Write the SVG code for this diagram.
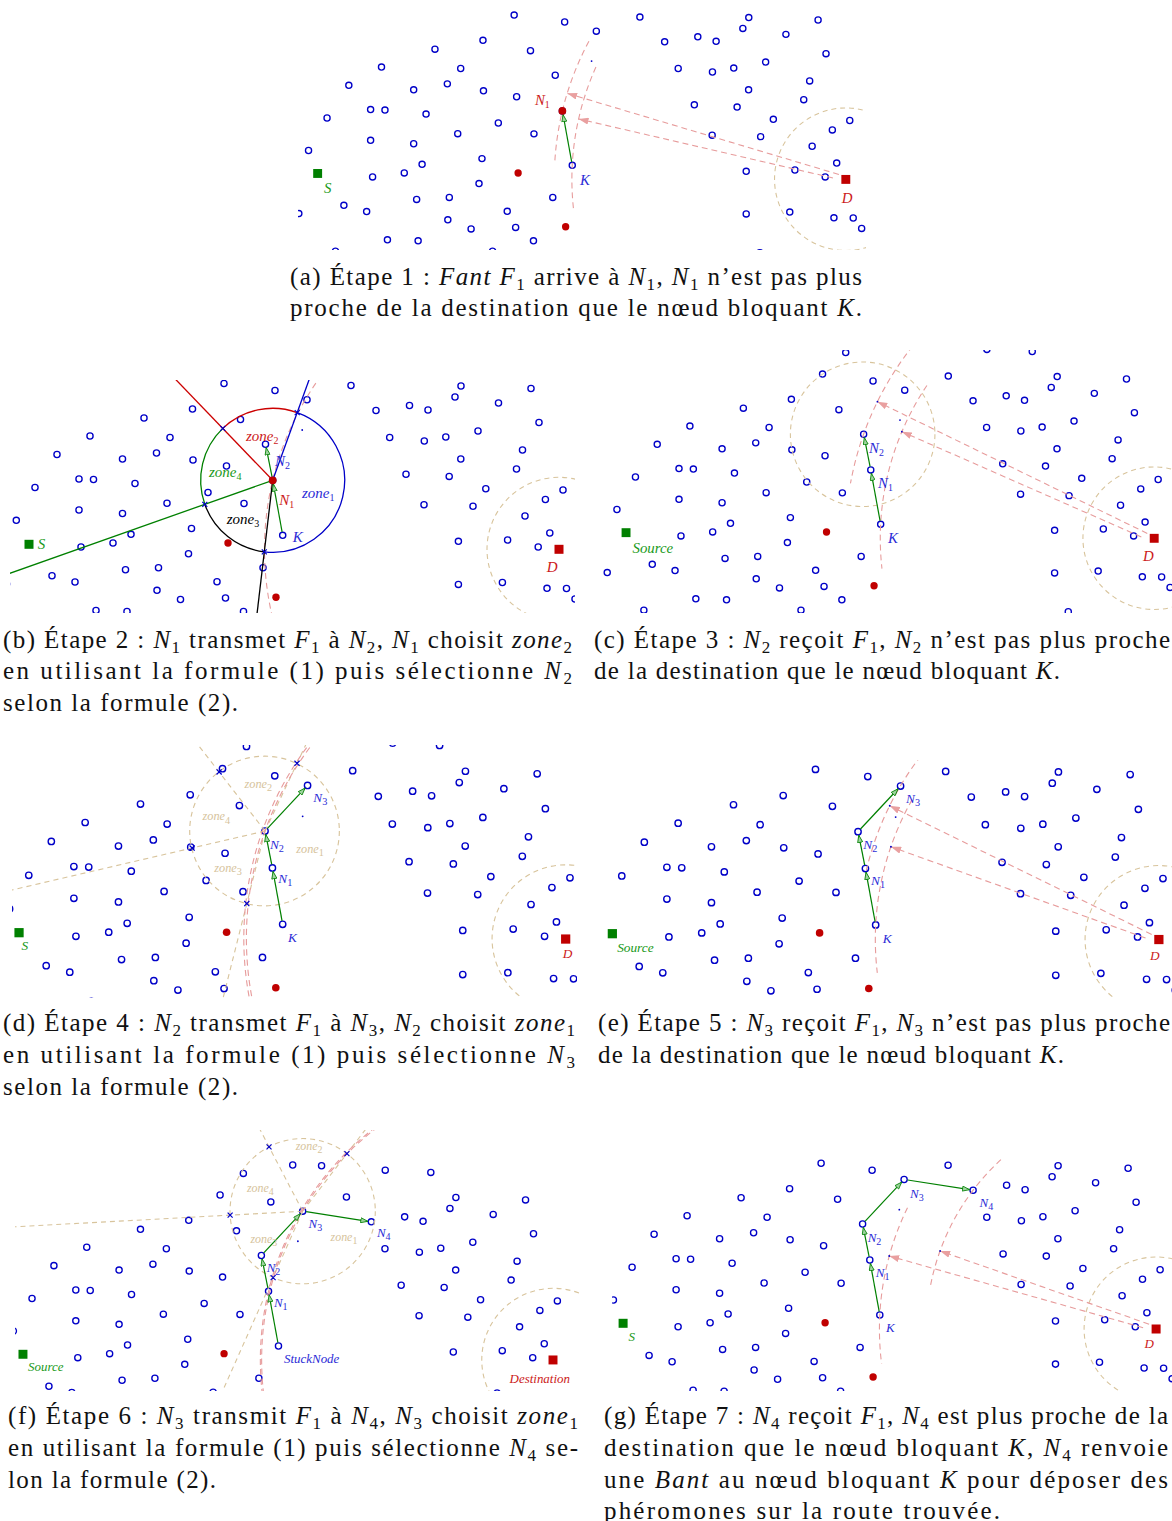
<svg xmlns="http://www.w3.org/2000/svg" width="1172" height="1521" viewBox="0 0 1172 1521">
<style>
.p{fill:none;stroke:#0000c8;stroke-width:1.35}
.rd{fill:#c00000}
.td{fill:#0000c8}
.tn{fill:none;stroke:#d8c49c;stroke-width:1.1;stroke-dasharray:5 4}
.pk{fill:none;stroke:#e79c9c;stroke-width:1.1;stroke-dasharray:6 4}
.ga{stroke:#008000;stroke-width:1.2;marker-end:url(#ga)}
.xm{stroke:#0000c8;stroke-width:1.2;fill:none}
.lb{font-family:"Liberation Serif","Times New Roman",serif;font-style:italic;font-size:15px}
.ls{font-size:13px}
.lz{font-size:12px}
.sb{font-size:10px;font-style:normal}
.cb{fill:#2b2bd6}
.cr{fill:#cc1a1a}
.cg{fill:#1a9a1a}
.ct{fill:#d6c39c}
.ck{fill:#000}
.sg{fill:#008000}
.sr{fill:#c00000}
.cap{font-family:"Liberation Serif","Times New Roman",serif;font-size:25px;fill:#111}
.i{font-style:italic}
.s{font-size:17px}
</style>
<defs>
<marker id="pa" viewBox="0 0 10 7" refX="10" refY="3.5" markerWidth="10" markerHeight="7" markerUnits="userSpaceOnUse" orient="auto"><path d="M0,0L10,3.5L0,7z" fill="#e9a0a0" stroke="none"/></marker>
<marker id="ga" viewBox="0 0 8 6" refX="7.6" refY="3" markerWidth="8" markerHeight="6" markerUnits="userSpaceOnUse" orient="auto"><path d="M0.5,0.5L7.6,3L0.5,5.5z" fill="#9fd49f" stroke="#008000" stroke-width="0.8"/></marker>
<clipPath id="cA"><rect x="298" y="10" width="568" height="240"/></clipPath>
<clipPath id="cB"><rect x="10" y="380" width="565" height="233"/></clipPath>
<clipPath id="cC"><rect x="598" y="350" width="574" height="263"/></clipPath>
<clipPath id="cD"><rect x="12" y="745" width="565" height="253"/></clipPath>
<clipPath id="cE"><rect x="607" y="760" width="565" height="238"/></clipPath>
<clipPath id="cF"><rect x="15" y="1130" width="565" height="261"/></clipPath>
<clipPath id="cG"><rect x="612" y="1156" width="560" height="235"/></clipPath>
<g id="field">
<g class="p">
<circle cx="224" cy="383.5" r="3.1"/><circle cx="275" cy="390.5" r="3.1"/><circle cx="192.5" cy="409" r="3.1"/><circle cx="144" cy="418" r="3.1"/><circle cx="240.5" cy="419.5" r="3.1"/><circle cx="90" cy="436" r="3.1"/><circle cx="170" cy="437.5" r="3.1"/><circle cx="57" cy="454.5" r="3.1"/><circle cx="156.5" cy="453" r="3.1"/><circle cx="122.5" cy="459" r="3.1"/><circle cx="193" cy="460" r="3.1"/><circle cx="265.5" cy="444.3" r="3.1"/><circle cx="226.5" cy="466" r="3.1"/><circle cx="79" cy="479" r="3.1"/><circle cx="93.5" cy="479.5" r="3.1"/><circle cx="135" cy="483.5" r="3.1"/><circle cx="35" cy="487.5" r="3.1"/><circle cx="208" cy="492.5" r="3.1"/><circle cx="167" cy="503.3" r="3.1"/><circle cx="244" cy="503.5" r="3.1"/><circle cx="79" cy="510" r="3.1"/><circle cx="122.5" cy="513.5" r="3.1"/><circle cx="16.3" cy="520.3" r="3.1"/><circle cx="191.5" cy="528.5" r="3.1"/><circle cx="131" cy="534.3" r="3.1"/><circle cx="113" cy="543" r="3.1"/><circle cx="81" cy="547" r="3.1"/><circle cx="282.7" cy="535.3" r="3.1"/><circle cx="188.5" cy="553.7" r="3.1"/><circle cx="263" cy="567.7" r="3.1"/><circle cx="125.5" cy="569.7" r="3.1"/><circle cx="158.5" cy="567.7" r="3.1"/><circle cx="52" cy="575.7" r="3.1"/><circle cx="75" cy="582" r="3.1"/><circle cx="6.5" cy="584" r="3.1"/><circle cx="217" cy="581.7" r="3.1"/><circle cx="157" cy="590.3" r="3.1"/><circle cx="180.5" cy="599.5" r="3.1"/><circle cx="225.5" cy="598" r="3.1"/><circle cx="96" cy="610.5" r="3.1"/><circle cx="127" cy="611.5" r="3.1"/><circle cx="243.5" cy="611.5" r="3.1"/><circle cx="272.7" cy="480.3" r="3.1"/>
<circle cx="351" cy="385.5" r="3.1"/><circle cx="307" cy="399.8" r="3.1"/><circle cx="461" cy="386" r="3.1"/><circle cx="455" cy="397" r="3.1"/><circle cx="531" cy="388.5" r="3.1"/><circle cx="376" cy="410.5" r="3.1"/><circle cx="409.5" cy="405.5" r="3.1"/><circle cx="428" cy="410" r="3.1"/><circle cx="498.5" cy="403" r="3.1"/><circle cx="539" cy="422.5" r="3.1"/><circle cx="389.7" cy="437.5" r="3.1"/><circle cx="424.3" cy="441" r="3.1"/><circle cx="445.8" cy="437" r="3.1"/><circle cx="478" cy="431" r="3.1"/><circle cx="522.5" cy="450" r="3.1"/><circle cx="460.8" cy="459" r="3.1"/><circle cx="516.5" cy="469" r="3.1"/><circle cx="406" cy="474.2" r="3.1"/><circle cx="449.2" cy="476.4" r="3.1"/><circle cx="485.8" cy="488.8" r="3.1"/><circle cx="563" cy="490" r="3.1"/><circle cx="545.4" cy="499.5" r="3.1"/><circle cx="424" cy="504.8" r="3.1"/><circle cx="473" cy="506.3" r="3.1"/><circle cx="525" cy="516" r="3.1"/><circle cx="549.8" cy="533" r="3.1"/><circle cx="458.4" cy="541.3" r="3.1"/><circle cx="507.6" cy="540" r="3.1"/><circle cx="538.2" cy="547" r="3.1"/><circle cx="458.4" cy="584.4" r="3.1"/><circle cx="502.4" cy="582.5" r="3.1"/><circle cx="547" cy="588.3" r="3.1"/><circle cx="566.5" cy="588.5" r="3.1"/><circle cx="575" cy="599" r="3.1"/>
<circle cx="297" cy="353.4" r="3.1"/><circle cx="326" cy="354.1" r="3.1"/><circle cx="247.4" cy="361.8" r="3.1"/><circle cx="390" cy="358.6" r="3.1"/><circle cx="435.8" cy="360.8" r="3.1"/><circle cx="43.5" cy="622" r="3.1"/><circle cx="202.2" cy="622" r="3.1"/><circle cx="472.2" cy="623.5" r="3.1"/>
</g>
<circle class="rd" cx="228" cy="543" r="3.7"/>
<circle class="rd" cx="276" cy="597.3" r="3.7"/>
<circle class="td" cx="302.2" cy="430" r="0.9"/>
<circle class="tn" cx="559" cy="549.3" r="72"/>
</g>
</defs>

<!-- Panel (a) -->
<g id="panel-a" clip-path="url(#cA)">
<g transform="translate(292.4,-364.6) scale(0.99)">
<use href="#field"/>
<g id="a-connectors">
<path class="pk" d="M299.5,410 A294.5,294.5 0 0 0 265.1,531"/>
<path class="pk" d="M306.6,436 A276.66,276.66 0 0 0 283.9,579"/>
<line class="pk" x1="552" y1="544.5" x2="277.6" y2="462.6" marker-end="url(#pa)"/>
<line class="pk" x1="546" y1="548" x2="289.1" y2="488.4" marker-end="url(#pa)"/>
<line class="ga" x1="282.1" y1="531.9" x2="273.4" y2="484.1"/>
</g>
<g id="a-N1"><circle class="rd" cx="272.7" cy="480.3" r="3.9"/><text class="lb cr" x="245" y="474">N<tspan class="sb" dy="3">1</tspan></text></g>
<g id="a-K"><text class="lb cb" x="290.5" y="555">K</text></g>
<g id="a-S"><rect class="sg" x="21" y="539" width="9" height="9"/><text class="lb cg" x="32" y="563.5">S</text></g>
<g id="a-D"><rect class="sr" x="554.5" y="545" width="9" height="9"/><text class="lb cr" x="555" y="573">D</text></g>
</g>
</g>
<text class="cap" x="290" y="285" textLength="572" lengthAdjust="spacing">(a) Étape 1 : <tspan class="i">Fant F</tspan><tspan class="s" dy="5">1</tspan><tspan dy="-5"> arrive à </tspan><tspan class="i">N</tspan><tspan class="s" dy="5">1</tspan><tspan dy="-5">, </tspan><tspan class="i">N</tspan><tspan class="s" dy="5">1</tspan><tspan dy="-5"> n’est pas plus</tspan></text>
<text class="cap" x="290" y="316" textLength="572" lengthAdjust="spacing">proche de la destination que le nœud bloquant <tspan class="i">K</tspan>.</text>

<!-- Panel (b) -->
<g id="panel-b" clip-path="url(#cB)">
<use href="#field"/>
<g id="b-connectors">
<path class="pk" d="M321.6,375 A294.5,294.5 0 0 0 273.1,620"/>
<g fill="none" stroke-width="1.3">
<line x1="272.7" y1="480.3" x2="171.4" y2="375" stroke="#cc0000"/>
<line x1="272.7" y1="480.3" x2="5" y2="575" stroke="#008000"/>
<line x1="272.7" y1="480.3" x2="256.3" y2="620" stroke="#000"/>
<line x1="272.7" y1="480.3" x2="310.8" y2="375" stroke="#0000c8"/>
<path d="M222.8,428.4 A72,72 0 0 1 297.2,412.6" stroke="#cc0000"/>
<path d="M297.2,412.6 A72,72 0 0 1 264.3,551.8" stroke="#0000c8"/>
<path d="M264.3,551.8 A72,72 0 0 1 204.8,504.3" stroke="#000"/>
<path d="M204.8,504.3 A72,72 0 0 1 222.8,428.4" stroke="#008000"/>
</g>
<path class="xm" d="M220.3,425.9l5,5m0,-5l-5,5M294.7,410.1l5,5m0,-5l-5,5M261.8,549.3l5,5m0,-5l-5,5M202.3,501.8l5,5m0,-5l-5,5"/>
<line class="ga" x1="282.1" y1="531.9" x2="273.4" y2="484.1"/>
<line class="ga" x1="272" y1="476.6" x2="266.2" y2="447.7"/>
</g>
<g id="b-zones">
<text class="lb cr" x="246" y="441">zone<tspan class="sb" dy="3">2</tspan></text>
<text class="lb cg" x="209" y="476.5">zone<tspan class="sb" dy="3">4</tspan></text>
<text class="lb ck" x="226.7" y="523.5">zone<tspan class="sb" dy="3">3</tspan></text>
<text class="lb cb" x="302" y="497.5">zone<tspan class="sb" dy="3">1</tspan></text>
</g>
<g id="b-N2"><text class="lb cb" x="275" y="466">N<tspan class="sb" dy="3">2</tspan></text></g>
<g id="b-N1"><circle class="rd" cx="272.7" cy="480.3" r="3.9"/><text class="lb cr" x="279.3" y="504.5">N<tspan class="sb" dy="3">1</tspan></text></g>
<g id="b-K"><text class="lb cb" x="292.7" y="542">K</text></g>
<g id="b-S"><rect class="sg" x="24.5" y="539.8" width="9" height="9"/><text class="lb cg" x="37.7" y="549">S</text></g>
<g id="b-D"><rect class="sr" x="554.5" y="544.8" width="9" height="9"/><text class="lb cr" x="546.7" y="571.5">D</text></g>
</g>
<text class="cap" x="3" y="648" textLength="569" lengthAdjust="spacing">(b) Étape 2 : <tspan class="i">N</tspan><tspan class="s" dy="5">1</tspan><tspan dy="-5"> transmet </tspan><tspan class="i">F</tspan><tspan class="s" dy="5">1</tspan><tspan dy="-5"> à </tspan><tspan class="i">N</tspan><tspan class="s" dy="5">2</tspan><tspan dy="-5">, </tspan><tspan class="i">N</tspan><tspan class="s" dy="5">1</tspan><tspan dy="-5"> choisit </tspan><tspan class="i">zone</tspan><tspan class="s" dy="5">2</tspan></text>
<text class="cap" x="3" y="679" textLength="569" lengthAdjust="spacing">en utilisant la formule (1) puis sélectionne <tspan class="i">N</tspan><tspan class="s" dy="5">2</tspan></text>
<text class="cap" x="3" y="711" textLength="235" lengthAdjust="spacing">selon la formule (2).</text>

<!-- Panel (c) -->
<g id="panel-c" clip-path="url(#cC)">
<g transform="translate(600.8,-5.6) scale(0.99)">
<use href="#field"/>
<g id="c-connectors">
<circle class="tn" cx="264.5" cy="444.3" r="73"/>
<path class="pk" d="M315.2,355 A311.7,311.7 0 0 0 252.2,494"/>
<path class="pk" d="M329.4,395 A276.66,276.66 0 0 0 284,580"/>
<line class="pk" x1="552" y1="544.5" x2="279.4" y2="411.4" marker-end="url(#pa)"/>
<line class="pk" x1="546" y1="548" x2="304.1" y2="441.7" marker-end="url(#pa)"/>
<circle class="td" cx="279.4" cy="411.4" r="0.9"/><circle class="td" cx="304.1" cy="441.7" r="0.9"/>
<line class="ga" x1="282.1" y1="531.9" x2="273.3" y2="483.8"/>
<line class="ga" x1="272" y1="476.9" x2="266.2" y2="447.7"/>
</g>
<g id="c-N2"><text class="lb cb" x="271" y="463">N<tspan class="sb" dy="3">2</tspan></text></g>
<g id="c-N1"><text class="lb cb" x="280" y="498.5">N<tspan class="sb" dy="3">1</tspan></text></g>
<g id="c-K"><text class="lb cb" x="290" y="554.5">K</text></g>
<g id="c-S"><rect class="sg" x="21" y="539.2" width="9" height="9"/><text class="lb cg" x="32" y="564.5">Source</text></g>
<g id="c-D"><rect class="sr" x="554.5" y="544.9" width="9" height="9"/><text class="lb cr" x="547.8" y="572">D</text></g>
</g>
</g>
<text class="cap" x="594" y="648" textLength="576" lengthAdjust="spacing">(c) Étape 3 : <tspan class="i">N</tspan><tspan class="s" dy="5">2</tspan><tspan dy="-5"> reçoit </tspan><tspan class="i">F</tspan><tspan class="s" dy="5">1</tspan><tspan dy="-5">, </tspan><tspan class="i">N</tspan><tspan class="s" dy="5">2</tspan><tspan dy="-5"> n’est pas plus proche</tspan></text>
<text class="cap" x="594" y="679" textLength="466" lengthAdjust="spacing">de la destination que le nœud bloquant <tspan class="i">K</tspan>.</text>

<!-- Panel (d) -->
<g id="panel-d" clip-path="url(#cD)">
<g transform="translate(-7.1,375.6) scale(1.025)">
<use href="#field"/>
<g id="d-connectors">
<circle class="tn" cx="265" cy="444.3" r="73"/>
<line class="tn" x1="265.5" y1="444.3" x2="196" y2="355"/>
<line class="tn" x1="265.5" y1="444.3" x2="5" y2="505"/>
<line class="tn" x1="265.5" y1="444.3" x2="222.6" y2="615"/>
<line class="tn" x1="265.5" y1="444.3" x2="307.7" y2="355"/>
<path class="pk" d="M315.2,355 A311.7,311.7 0 0 0 253.7,612"/>
<path class="pk" d="M312.1,355 A314.2,314.2 0 0 0 251.1,612"/>
<path class="xm" d="M218.2,384.2l5,5m0,-5l-5,5M191.9,458.4l5,5m0,-5l-5,5M245.2,512.6l5,5m0,-5l-5,5M294.2,375.8l5,5m0,-5l-5,5"/>
<line class="ga" x1="282.1" y1="531.9" x2="273.3" y2="483.8"/>
<line class="ga" x1="272" y1="476.9" x2="266.2" y2="447.7"/>
<line class="ga" x1="267.9" y1="441.7" x2="304.6" y2="402.4"/>
</g>
<g id="d-zones">
<text class="lb lz ct" x="245.5" y="402">zone<tspan class="sb" dy="3">2</tspan></text>
<text class="lb lz ct" x="204.5" y="434">zone<tspan class="sb" dy="3">4</tspan></text>
<text class="lb lz ct" x="216" y="484.5">zone<tspan class="sb" dy="3">3</tspan></text>
<text class="lb lz ct" x="296" y="466">zone<tspan class="sb" dy="3">1</tspan></text>
</g>
<g id="d-N2"><text class="lb ls cb" x="270.3" y="461.5">N<tspan class="sb" dy="3">2</tspan></text></g>
<g id="d-N1"><text class="lb ls cb" x="278.5" y="495">N<tspan class="sb" dy="3">1</tspan></text></g>
<g id="d-N3"><text class="lb ls cb" x="312.6" y="416">N<tspan class="sb" dy="3">3</tspan></text></g>
<g id="d-K"><text class="lb ls cb" x="288" y="552.5">K</text></g>
<g id="d-S"><rect class="sg" x="21" y="539" width="9" height="9"/><text class="lb ls cg" x="28" y="560.5">S</text></g>
<g id="d-D"><rect class="sr" x="554.3" y="545.2" width="9" height="9"/><text class="lb ls cr" x="556" y="568.5">D</text></g>
</g>
</g>
<text class="cap" x="3" y="1031" textLength="572" lengthAdjust="spacing">(d) Étape 4 : <tspan class="i">N</tspan><tspan class="s" dy="5">2</tspan><tspan dy="-5"> transmet </tspan><tspan class="i">F</tspan><tspan class="s" dy="5">1</tspan><tspan dy="-5"> à </tspan><tspan class="i">N</tspan><tspan class="s" dy="5">3</tspan><tspan dy="-5">, </tspan><tspan class="i">N</tspan><tspan class="s" dy="5">2</tspan><tspan dy="-5"> choisit </tspan><tspan class="i">zone</tspan><tspan class="s" dy="5">1</tspan></text>
<text class="cap" x="3" y="1063" textLength="572" lengthAdjust="spacing">en utilisant la formule (1) puis sélectionne <tspan class="i">N</tspan><tspan class="s" dy="5">3</tspan></text>
<text class="cap" x="3" y="1095" textLength="235" lengthAdjust="spacing">selon la formule (2).</text>

<!-- Panel (e) -->
<g id="panel-e" clip-path="url(#cE)">
<g transform="translate(585.9,376.3) scale(1.025)">
<use href="#field"/>
<g id="e-connectors">
<path class="pk" d="M327,370 A293.2,293.2 0 0 0 273.6,482"/>
<path class="pk" d="M318.3,413 A276.66,276.66 0 0 0 284.3,582"/>
<line class="pk" x1="552" y1="544.5" x2="296.4" y2="419" marker-end="url(#pa)"/>
<line class="pk" x1="546" y1="548" x2="297.6" y2="459" marker-end="url(#pa)"/>
<circle class="td" cx="296.4" cy="419" r="0.9"/><circle class="td" cx="297.6" cy="459" r="0.9"/>
<line class="ga" x1="282.1" y1="531.9" x2="273.3" y2="483.8"/>
<line class="ga" x1="272" y1="476.9" x2="266.2" y2="447.7"/>
<line class="ga" x1="267.9" y1="441.7" x2="304.6" y2="402.4"/>
</g>
<g id="e-N3"><text class="lb ls cb" x="312.4" y="416">N<tspan class="sb" dy="3">3</tspan></text></g>
<g id="e-N2"><text class="lb ls cb" x="270.6" y="461">N<tspan class="sb" dy="3">2</tspan></text></g>
<g id="e-N1"><text class="lb ls cb" x="278.2" y="496.5">N<tspan class="sb" dy="3">1</tspan></text></g>
<g id="e-K"><text class="lb ls cb" x="289.6" y="552.5">K</text></g>
<g id="e-S"><rect class="sg" x="21.3" y="539.3" width="9" height="9"/><text class="lb ls cg" x="30.5" y="562">Source</text></g>
<g id="e-D"><rect class="sr" x="554.5" y="545" width="9" height="9"/><text class="lb ls cr" x="550.3" y="569.5">D</text></g>
</g>
</g>
<text class="cap" x="598" y="1031" textLength="572" lengthAdjust="spacing">(e) Étape 5 : <tspan class="i">N</tspan><tspan class="s" dy="5">3</tspan><tspan dy="-5"> reçoit </tspan><tspan class="i">F</tspan><tspan class="s" dy="5">1</tspan><tspan dy="-5">, </tspan><tspan class="i">N</tspan><tspan class="s" dy="5">3</tspan><tspan dy="-5"> n’est pas plus proche</tspan></text>
<text class="cap" x="598" y="1063" textLength="466" lengthAdjust="spacing">de la destination que le nœud bloquant <tspan class="i">K</tspan>.</text>

<!-- Panel (f) -->
<g id="panel-f" clip-path="url(#cF)">
<g transform="translate(-2.8,813.4) scale(0.995)">
<use href="#field"/>
<g id="f-connectors">
<circle class="tn" cx="307" cy="399.8" r="73"/>
<line class="tn" x1="307" y1="399.8" x2="262.7" y2="315"/>
<line class="tn" x1="307" y1="399.8" x2="10" y2="415.9"/>
<line class="tn" x1="307" y1="399.8" x2="222.3" y2="590"/>
<line class="tn" x1="307" y1="399.8" x2="372.2" y2="315"/>
<path class="pk" d="M380.6,315 A294.5,294.5 0 0 0 267.3,590"/>
<path class="pk" d="M382.7,315 A293.2,293.2 0 0 0 268.6,590"/>
<path class="xm" d="M270.7,332.6l5,5m0,-5l-5,5M231.6,401.2l5,5m0,-5l-5,5M274.8,464l5,5m0,-5l-5,5M349,339.4l5,5m0,-5l-5,5"/>
<line class="ga" x1="282.1" y1="531.9" x2="273.3" y2="483.8"/>
<line class="ga" x1="272" y1="476.9" x2="266.2" y2="447.7"/>
<line class="ga" x1="267.9" y1="441.7" x2="304.6" y2="402.4"/>
<line class="ga" x1="310.5" y1="400.3" x2="372.5" y2="410"/>
</g>
<g id="f-zones">
<text class="lb lz ct" x="300" y="338">zone<tspan class="sb" dy="3">2</tspan></text>
<text class="lb lz ct" x="251" y="381">zone<tspan class="sb" dy="3">4</tspan></text>
<text class="lb lz ct" x="254.5" y="432">zone<tspan class="sb" dy="3">3</tspan></text>
<text class="lb lz ct" x="335" y="429.5">zone<tspan class="sb" dy="3">1</tspan></text>
</g>
<g id="f-N3"><text class="lb ls cb" x="312.9" y="417">N<tspan class="sb" dy="3">3</tspan></text></g>
<g id="f-N4"><text class="lb ls cb" x="381.7" y="426">N<tspan class="sb" dy="3">4</tspan></text></g>
<g id="f-N2"><text class="lb ls cb" x="270.8" y="461">N<tspan class="sb" dy="3">2</tspan></text></g>
<g id="f-N1"><text class="lb ls cb" x="278.2" y="496.5">N<tspan class="sb" dy="3">1</tspan></text></g>
<g id="f-K"><text class="lb ls cb" x="288.3" y="552">StuckNode</text></g>
<g id="f-S"><rect class="sg" x="21.4" y="539.1" width="9" height="9"/><text class="lb ls cg" x="31" y="560.5">Source</text></g>
<g id="f-D"><rect class="sr" x="554.1" y="544.8" width="9" height="9"/><text class="lb ls cr" x="515" y="572.5">Destination</text></g>
</g>
</g>
<text class="cap" x="8" y="1424" textLength="570" lengthAdjust="spacing">(f) Étape 6 : <tspan class="i">N</tspan><tspan class="s" dy="5">3</tspan><tspan dy="-5"> transmit </tspan><tspan class="i">F</tspan><tspan class="s" dy="5">1</tspan><tspan dy="-5"> à </tspan><tspan class="i">N</tspan><tspan class="s" dy="5">4</tspan><tspan dy="-5">, </tspan><tspan class="i">N</tspan><tspan class="s" dy="5">3</tspan><tspan dy="-5"> choisit </tspan><tspan class="i">zone</tspan><tspan class="s" dy="5">1</tspan></text>
<text class="cap" x="8" y="1456" textLength="570" lengthAdjust="spacing">en utilisant la formule (1) puis sélectionne <tspan class="i">N</tspan><tspan class="s" dy="5">4</tspan><tspan dy="-5"> se-</tspan></text>
<text class="cap" x="8" y="1488" textLength="208" lengthAdjust="spacing">lon la formule (2).</text>

<!-- Panel (g) -->
<g id="panel-g" clip-path="url(#cG)">
<g transform="translate(597.1,779.7)">
<use href="#field"/>
<g id="g-connectors">
<path class="pk" d="M403.8,380 A229.7,229.7 0 0 0 333.2,507"/>
<path class="pk" d="M310.4,428 A276.66,276.66 0 0 0 284.5,584"/>
<line class="pk" x1="552" y1="544.5" x2="343" y2="471.3" marker-end="url(#pa)"/>
<line class="pk" x1="546" y1="548" x2="292.1" y2="476.3" marker-end="url(#pa)"/>
<circle class="td" cx="343" cy="471.3" r="0.9"/><circle class="td" cx="292.1" cy="476.3" r="0.9"/>
<line class="ga" x1="282.1" y1="531.9" x2="273.3" y2="483.8"/>
<line class="ga" x1="272" y1="476.9" x2="266.2" y2="447.7"/>
<line class="ga" x1="267.9" y1="441.7" x2="304.6" y2="402.4"/>
<line class="ga" x1="310.5" y1="400.3" x2="372.5" y2="410"/>
</g>
<g id="g-N3"><text class="lb ls cb" x="313" y="418">N<tspan class="sb" dy="3">3</tspan></text></g>
<g id="g-N4"><text class="lb ls cb" x="382.4" y="427">N<tspan class="sb" dy="3">4</tspan></text></g>
<g id="g-N2"><text class="lb ls cb" x="270.6" y="462">N<tspan class="sb" dy="3">2</tspan></text></g>
<g id="g-N1"><text class="lb ls cb" x="278.7" y="497">N<tspan class="sb" dy="3">1</tspan></text></g>
<g id="g-K"><text class="lb ls cb" x="289" y="552.5">K</text></g>
<g id="g-S"><rect class="sg" x="21.5" y="539.1" width="9" height="9"/><text class="lb ls cg" x="31.5" y="561">S</text></g>
<g id="g-D"><rect class="sr" x="554.5" y="544.8" width="9" height="9"/><text class="lb ls cr" x="547.4" y="568.5">D</text></g>
</g>
</g>
<text class="cap" x="604" y="1424" textLength="564" lengthAdjust="spacing">(g) Étape 7 : <tspan class="i">N</tspan><tspan class="s" dy="5">4</tspan><tspan dy="-5"> reçoit </tspan><tspan class="i">F</tspan><tspan class="s" dy="5">1</tspan><tspan dy="-5">, </tspan><tspan class="i">N</tspan><tspan class="s" dy="5">4</tspan><tspan dy="-5"> est plus proche de la</tspan></text>
<text class="cap" x="604" y="1456" textLength="564" lengthAdjust="spacing">destination que le nœud bloquant <tspan class="i">K</tspan>, <tspan class="i">N</tspan><tspan class="s" dy="5">4</tspan><tspan dy="-5"> renvoie</tspan></text>
<text class="cap" x="604" y="1488" textLength="564" lengthAdjust="spacing">une <tspan class="i">Bant</tspan> au nœud bloquant <tspan class="i">K</tspan> pour déposer des</text>
<text class="cap" x="604" y="1519" textLength="396" lengthAdjust="spacing">phéromones sur la route trouvée.</text>
</svg>
